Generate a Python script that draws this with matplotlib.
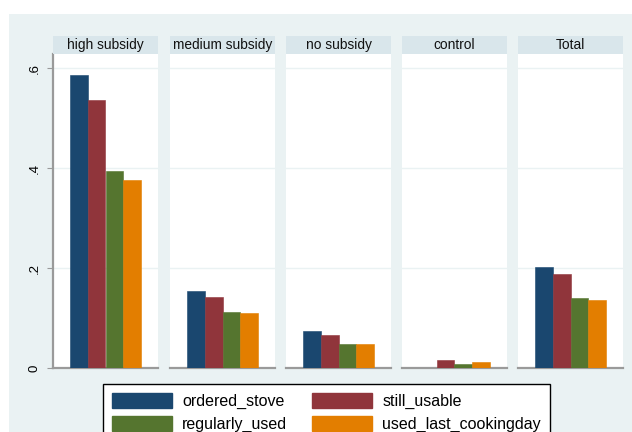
import numpy as np
import matplotlib
matplotlib.use("Agg")
import matplotlib.pyplot as plt
from matplotlib.patches import Rectangle, Patch

plt.rcParams['font.family'] = ['Liberation Sans', 'DejaVu Sans']

# data
groups = ['high subsidy', 'medium subsidy', 'no subsidy', 'control', 'Total']
series = ['ordered_stove', 'still_usable', 'regularly_used', 'used_last_cookingday']
ordered_stove = [0.586, 0.155, 0.075, 0.0, 0.202]
still_usable = [0.536, 0.142, 0.067, 0.017, 0.189]
regularly_used = [0.394, 0.113, 0.048, 0.009, 0.141]
used_last_cookingday = [0.376, 0.111, 0.048, 0.013, 0.137]
yticks = [0, 0.2, 0.4, 0.6]
yticklabels = ['0', '.2', '.4', '.6']

values = [ordered_stove, still_usable, regularly_used, used_last_cookingday]
colors = ['#1A476F', '#90353B', '#55752F', '#E37E00']
bg = '#EAF2F3'
strip = '#D9E6EB'
axis_grey = '#9A9A9A'

W, H = 632, 432
fig = plt.figure(figsize=(W / 100, H / 100), dpi=100)
fig.patch.set_facecolor('white')

# stata graph region
fig.patches.append(Rectangle((9 / W, 0), (W - 9) / W, (H - 14) / H,
                             transform=fig.transFigure, facecolor=bg,
                             edgecolor='none', zorder=-10))

def fbox(x0, y0, x1, y1):
    # pixel coords (top-left origin) -> figure fraction [l, b, w, h]
    return [x0 / W, (H - y1) / H, (x1 - x0) / W, (y1 - y0) / H]

lefts = [53, 170, 286, 402, 518]
pw = 105
top, zero, strip_top = 54, 368, 36
ymax = (zero - top) / 500.0

for i, g in enumerate(groups):
    x0 = lefts[i]
    ax = fig.add_axes(fbox(x0, top, x0 + pw, zero))
    ax.set_facecolor('white')
    for j in range(4):
        ax.bar(j, values[j][i], width=1.0, color=colors[j],
               edgecolor=colors[j], linewidth=0.4, zorder=3)
    ax.set_xlim(-1.42, 4.42)
    ax.set_ylim(0, ymax)
    for yv in yticks[1:]:
        ax.axhline(yv, color=bg, linewidth=1.0, zorder=1)
    for s in ['top', 'right']:
        ax.spines[s].set_visible(False)
    ax.spines['bottom'].set_color(axis_grey)
    ax.spines['bottom'].set_linewidth(1.6)
    ax.set_xticks([])
    if i == 0:
        ax.spines['left'].set_color(axis_grey)
        ax.spines['left'].set_linewidth(1.6)
        ax.set_yticks(yticks)
        ax.set_yticklabels(yticklabels, rotation=90, va='center', fontsize=9.5)
        ax.tick_params(axis='y', length=4, width=0.8, color=axis_grey, pad=5)
    else:
        ax.spines['left'].set_visible(False)
        ax.set_yticks([])

    sax = fig.add_axes(fbox(x0, strip_top, x0 + pw, top))
    sax.set_facecolor(strip)
    for s in sax.spines.values():
        s.set_visible(False)
    sax.set_xticks([])
    sax.set_yticks([])
    sax.text(0.5, 0.5, g, ha='center', va='center', fontsize=9.9,
             color='#111111', transform=sax.transAxes)

handles = [Patch(facecolor=c, edgecolor=c, label=s) for c, s in zip(colors, series)]
order = [0, 2, 1, 3]
leg = fig.legend([handles[k] for k in order], [series[k] for k in order],
                 ncol=2, loc='upper left',
                 bbox_to_anchor=(103 / W, (H - 384) / H),
                 fontsize=11.5, handlelength=3.75, handleheight=1.05,
                 handletextpad=0.65, columnspacing=1.55, labelspacing=0.45,
                 borderpad=0.55, borderaxespad=0, fancybox=False,
                 framealpha=1, edgecolor='black')
leg.get_frame().set_linewidth(1.0)

fig.savefig('out.png', dpi=100)
